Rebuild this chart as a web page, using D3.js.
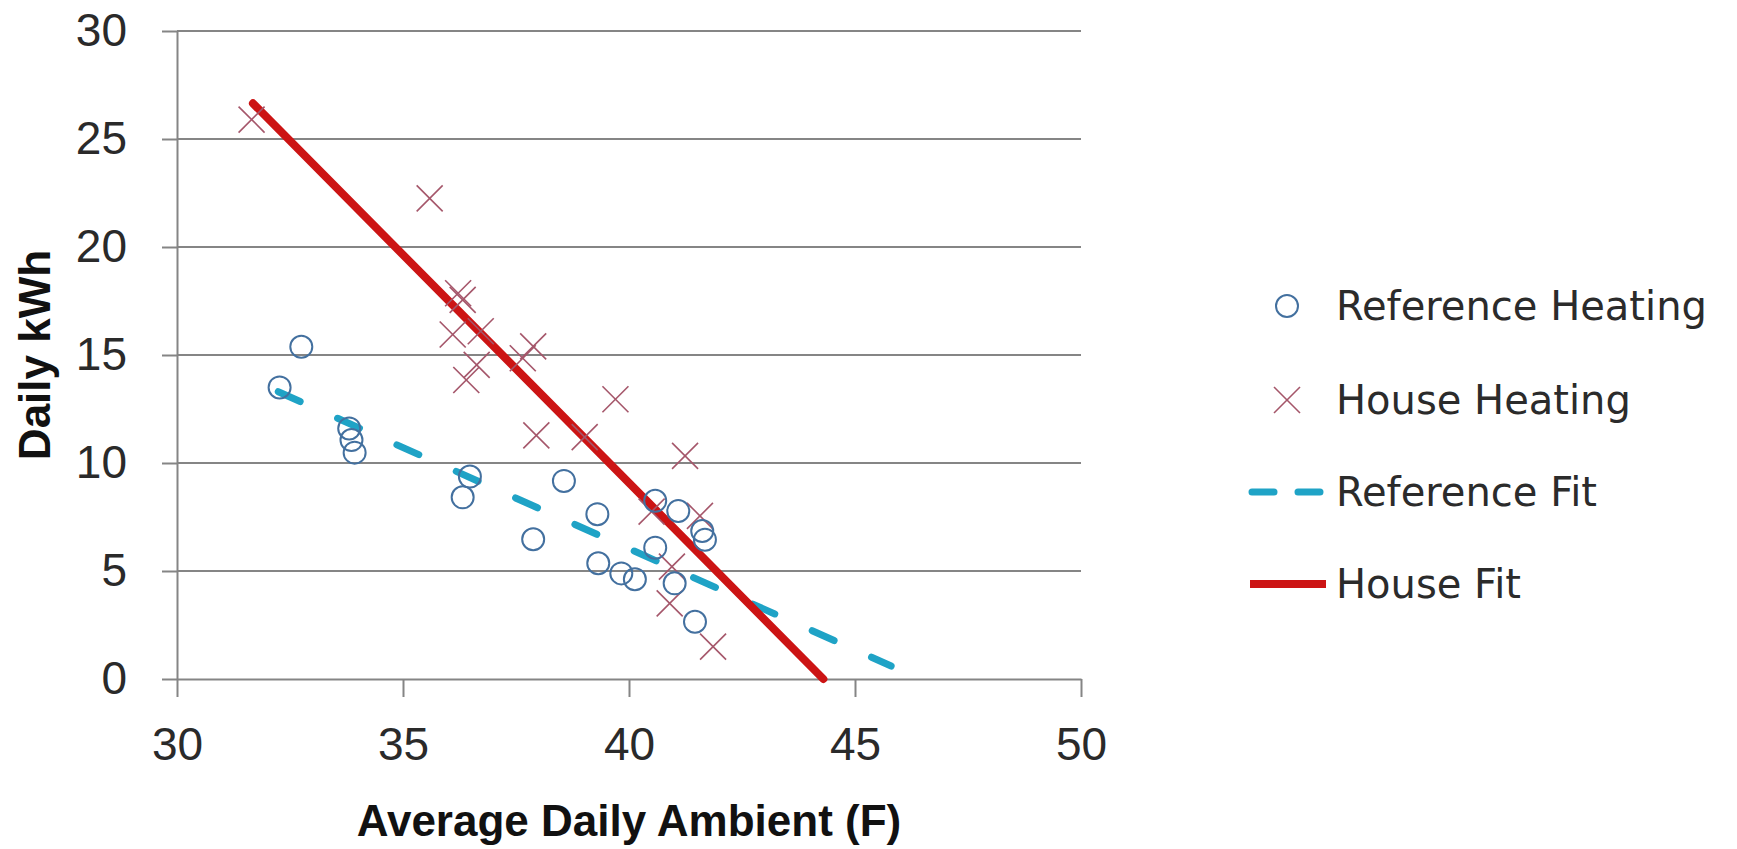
<!DOCTYPE html>
<html lang="en">
<head>
<meta charset="utf-8">
<title>Daily kWh vs Average Daily Ambient</title>
<script src="https://d3js.org/d3.v7.min.js"></script>
<style>
  body { margin: 0; background: #fff; }
  .tick text { font-family: "Liberation Sans", Arial, sans-serif; font-size: 46px; fill: #2a2a2a; }
  .axis-title { font-family: "Liberation Sans", Arial, sans-serif; font-weight: bold; font-size: 44px; fill: #111; }
  .legend text { font-family: "DejaVu Sans", sans-serif; font-size: 40px; fill: #2b2b2b; }
</style>
</head>
<body>
<div id="chart"></div>
<script>
// values
var refTemp = [32.27, 32.75, 33.81, 33.86, 33.93, 36.32, 36.48, 37.88, 38.56, 39.30,
               39.32, 39.83, 40.13, 40.58, 40.58, 41.01, 41.09, 41.46, 41.62, 41.68];
var refKwh  = [13.5, 15.38, 11.6, 11.06, 10.48, 8.41, 9.37, 6.47, 9.17, 7.63,
               5.36, 4.89, 4.62, 8.25, 6.08, 4.43, 7.78, 2.65, 6.85, 6.45];

var houseTemp = [31.65, 35.59, 36.22, 36.32, 36.10, 36.72, 36.40, 36.63, 37.88, 37.65,
                 37.95, 39.02, 39.70, 41.24, 40.50, 41.57, 40.95, 40.90, 41.86];
var houseKwh  = [25.9, 22.25, 17.86, 17.55, 15.95, 16.1, 13.84, 14.54, 15.4, 14.85,
                 11.28, 11.2, 12.95, 10.33, 7.75, 7.55, 5.2, 3.5, 1.5];

// fit lines (end points)
var refFitTemp = [32.24, 45.8];
var refFitKwh  = [13.3, 0.6];
var houseFitTemp = [31.68, 44.3];
var houseFitKwh  = [26.65, 0];

var xTicks = [30, 35, 40, 45, 50];
var yTicks = [0, 5, 10, 15, 20, 25, 30];
var legendLabels = ["Reference Heating", "House Heating", "Reference Fit", "House Fit"];

var W = 1737, H = 849;
var circleColor = "#43709f", crossColor = "#a5566a";
var refFitColor = "#1fa3c6", houseFitColor = "#cc1414";
var gridColor = "#858585";

var svg = d3.select("#chart").append("svg")
  .attr("width", W).attr("height", H);
svg.append("rect").attr("width", W).attr("height", H).attr("fill", "#fff");

var x = d3.scaleLinear().domain([30, 50]).range([177, 1081]);
var y = d3.scaleLinear().domain([0, 30]).range([679, 31]);

// horizontal gridlines
svg.append("g").selectAll("line")
  .data(yTicks.filter(function (d) { return d > 0; }))
  .enter().append("line")
  .attr("x1", x(30)).attr("x2", x(50))
  .attr("y1", function (d) { return y(d); })
  .attr("y2", function (d) { return y(d); })
  .attr("stroke", gridColor).attr("stroke-width", 2);

// axes
var yAxis = svg.append("g")
  .attr("transform", "translate(" + x(30) + ",0)")
  .call(d3.axisLeft(y).tickValues(yTicks).tickSize(15).tickSizeOuter(0).tickPadding(35));

var xAxis = svg.append("g")
  .attr("transform", "translate(0," + y(0) + ")")
  .call(d3.axisBottom(x).tickValues(xTicks).tickSize(18).tickSizeOuter(0).tickPadding(30));

[xAxis, yAxis].forEach(function (a) {
  a.select(".domain").attr("stroke", gridColor).attr("stroke-width", 2);
  a.selectAll(".tick line").attr("stroke", gridColor).attr("stroke-width", 2);
});

// fit lines
var line = d3.line()
  .x(function (d) { return x(d[0]); })
  .y(function (d) { return y(d[1]); });

svg.append("path")
  .datum(d3.zip(refFitTemp, refFitKwh))
  .attr("d", line)
  .attr("fill", "none")
  .attr("stroke", refFitColor).attr("stroke-width", 7)
  .attr("stroke-linecap", "round")
  .attr("stroke-dasharray", "24 41");

svg.append("path")
  .datum(d3.zip(houseFitTemp, houseFitKwh))
  .attr("d", line)
  .attr("fill", "none")
  .attr("stroke", houseFitColor).attr("stroke-width", 8)
  .attr("stroke-linecap", "round");

// markers
function cross(g, size) {
  g.append("line").attr("x1", -size).attr("y1", -size).attr("x2", size).attr("y2", size);
  g.append("line").attr("x1", -size).attr("y1", size).attr("x2", size).attr("y2", -size);
}

svg.append("g").selectAll("g")
  .data(d3.zip(houseTemp, houseKwh))
  .enter().append("g")
  .attr("transform", function (d) { return "translate(" + x(d[0]) + "," + y(d[1]) + ")"; })
  .attr("stroke", crossColor).attr("stroke-width", 1.6)
  .each(function () { cross(d3.select(this), 13); });

svg.append("g").selectAll("circle")
  .data(d3.zip(refTemp, refKwh))
  .enter().append("circle")
  .attr("cx", function (d) { return x(d[0]); })
  .attr("cy", function (d) { return y(d[1]); })
  .attr("r", 11)
  .attr("fill", "none")
  .attr("stroke", circleColor).attr("stroke-width", 2);

// axis titles
svg.append("text").attr("class", "axis-title")
  .attr("x", (x(30) + x(50)) / 2).attr("y", 836)
  .attr("text-anchor", "middle")
  .text("Average Daily Ambient (F)");

svg.append("text").attr("class", "axis-title")
  .attr("transform", "translate(50," + (y(0) + y(30)) / 2 + ") rotate(-90)")
  .attr("text-anchor", "middle")
  .text("Daily kWh");

// legend
var legend = svg.append("g").attr("class", "legend");
var rowY = [306, 400, 492, 584];
var symX = 1287;

legendLabels.forEach(function (label, i) {
  legend.append("text")
    .attr("x", 1336).attr("y", rowY[i] + 14)
    .text(label);
});

legend.append("circle")
  .attr("cx", symX).attr("cy", rowY[0]).attr("r", 11)
  .attr("fill", "none").attr("stroke", circleColor).attr("stroke-width", 2);

legend.append("g")
  .attr("transform", "translate(" + symX + "," + rowY[1] + ")")
  .attr("stroke", crossColor).attr("stroke-width", 1.6)
  .call(cross, 13);

legend.append("line")
  .attr("x1", 1252).attr("x2", 1320).attr("y1", rowY[2]).attr("y2", rowY[2])
  .attr("stroke", refFitColor).attr("stroke-width", 7)
  .attr("stroke-linecap", "round").attr("stroke-dasharray", "22 24");

legend.append("line")
  .attr("x1", 1250).attr("x2", 1326).attr("y1", rowY[3]).attr("y2", rowY[3])
  .attr("stroke", houseFitColor).attr("stroke-width", 8);
</script>
</body>
</html>
